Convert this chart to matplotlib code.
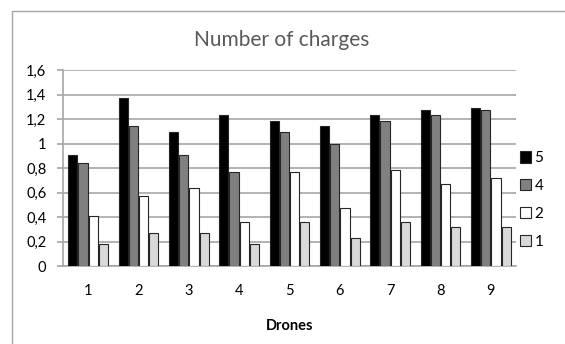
import matplotlib
matplotlib.use('Agg')
import matplotlib.pyplot as plt
import matplotlib.patches as mpatches
import numpy as np

# ── Daten ─────────────────────────────────────────────────────────────
drones = ['1', '2', '3', '4', '5', '6', '7', '8', '9']
series_names = ['5', '4', '2', '1']
vals_5 = [0.91, 1.37, 1.09, 1.23, 1.18, 1.14, 1.23, 1.27, 1.29]
vals_4 = [0.84, 1.14, 0.91, 0.77, 1.09, 1.00, 1.18, 1.23, 1.27]
vals_2 = [0.41, 0.57, 0.64, 0.36, 0.77, 0.47, 0.78, 0.67, 0.72]
vals_1 = [0.18, 0.27, 0.27, 0.18, 0.36, 0.23, 0.36, 0.32, 0.32]
y_ticks = [0, 0.2, 0.4, 0.6, 0.8, 1.0, 1.2, 1.4, 1.6]
y_ticklabels = ['0', '0,2', '0,4', '0,6', '0,8', '1', '1,2', '1,4', '1,6']

# ── Stil ──────────────────────────────────────────────────────────────
FONT = 'Lato'
FILLS = ['#000000', '#808080', '#ffffff', '#d9d9d9']
EDGE = '#262626'
GRID_C = '#a6a6a6'
TEXT_C = '#000000'
TITLE_C = '#595959'
FS_TICK = 10.5

W, H = 565, 344
fig = plt.figure(figsize=(W / 100, H / 100), dpi=100)
fig.patch.set_facecolor('white')

# Rahmen um das Diagramm (rechts/unten ausserhalb des Bildes)
frame = mpatches.Rectangle(
    (12 / W, -0.1), 1.2, 1 - 11 / H + 0.1,
    transform=fig.transFigure, fill=False,
    edgecolor='#a6a6a6', linewidth=1.0, clip_on=False
)
fig.add_artist(frame)

ax = fig.add_axes([63 / W, 1 - 266 / H, (516 - 63) / W, (266 - 70) / H])

x = np.arange(len(drones))
width = 0.185
pitch = 0.203
series = [vals_5, vals_4, vals_2, vals_1]
for i, (vals, name) in enumerate(zip(series, series_names)):
    offset = (i - 1.5) * pitch
    ax.bar(x + offset, vals, width=width, color=FILLS[i],
           edgecolor=EDGE, linewidth=0.8, label=name, zorder=3)

ax.set_xlim(-0.5, len(drones) - 0.5)
ax.set_ylim(0, 1.6)
ax.set_yticks(y_ticks)
ax.set_yticklabels(y_ticklabels)
ax.set_xticks(x)
ax.set_xticklabels(drones)

for spine in ['top', 'right']:
    ax.spines[spine].set_visible(False)
for spine in ['left', 'bottom']:
    ax.spines[spine].set_color(GRID_C)
    ax.spines[spine].set_linewidth(1.2)

ax.yaxis.grid(True, color=GRID_C, linewidth=1.2, zorder=0)
ax.set_axisbelow(True)
ax.tick_params(axis='y', length=4, color=GRID_C, width=1.2, pad=8,
               labelsize=FS_TICK, labelcolor=TEXT_C)
ax.tick_params(axis='x', length=0, pad=13, labelsize=FS_TICK, labelcolor=TEXT_C)
for lbl in ax.get_xticklabels() + ax.get_yticklabels():
    lbl.set_fontfamily(FONT)

ax.set_xlabel('Drones', fontsize=FS_TICK, fontweight='bold', fontfamily=FONT,
              labelpad=15, color=TEXT_C)

fig.text(282 / W, 1 - 40 / H, 'Number of charges', ha='center', va='center',
         fontsize=15, color=TITLE_C, fontfamily=FONT)

leg = ax.legend(loc='center left', bbox_to_anchor=(0.995, 0.337), frameon=False,
                prop={'family': FONT, 'size': 11}, handlelength=0.75,
                handleheight=0.75, handletextpad=0.2, labelspacing=0.9,
                borderaxespad=0.0)

fig.savefig('out.png', dpi=100, facecolor='white')
